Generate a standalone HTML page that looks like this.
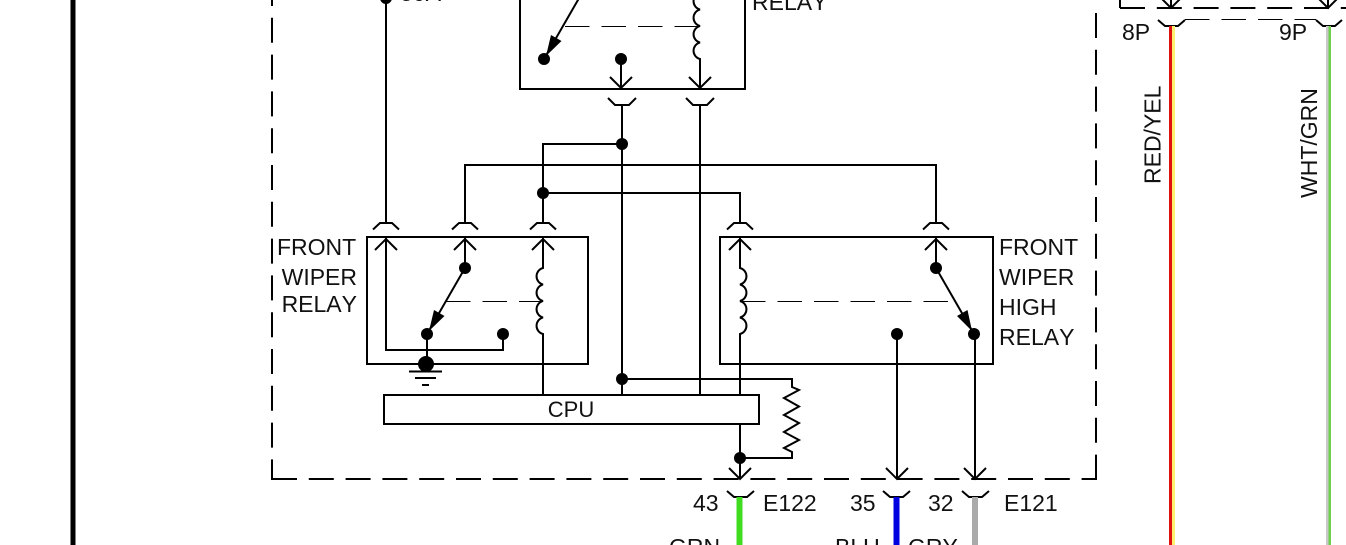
<!DOCTYPE html>
<html>
<head>
<meta charset="utf-8">
<style>
html,body{margin:0;padding:0;background:#fff;width:1346px;height:545px;overflow:hidden}
svg{display:block}
text{font-family:"Liberation Sans",sans-serif;font-size:23px;fill:#111;font-kerning:none}
.l{fill:none;stroke:#000;stroke-width:2}
.d{fill:none;stroke:#000;stroke-width:2;stroke-dasharray:25 11.8}
.t{fill:none;stroke:#000;stroke-width:1;stroke-dasharray:24.5 12}
.c{fill:#000;stroke:none}
</style>
</head>
<body>
<svg width="1346" height="545" viewBox="0 0 1346 545" xmlns="http://www.w3.org/2000/svg">
<rect x="70.500" y="0" width="5" height="545" fill="#000"/>

<!-- outer dashed frame -->
<line class="d" x1="272" y1="-19" x2="272" y2="480"/>
<line class="d" x1="1096" y1="13" x2="1096" y2="480"/>
<line class="d" x1="272" y1="479" x2="1097" y2="479"/>
<path class="l" d="M1120 0V8"/>
<line class="d" x1="1120" y1="8" x2="1346" y2="8"/>
<line class="t" x1="1185" y1="19.500" x2="1316" y2="19.500"/>

<!-- top relay -->
<path class="l" d="M520 0V89H745V0"/>
<path class="l" d="M582 -7L544 59"/>
<polygon class="c" points="546,56 561.500,41 551,35"/>
<circle class="c" cx="544" cy="59" r="6"/>
<circle class="c" cx="621" cy="59" r="6"/>
<path class="l" d="M621 59V88M610 77L621 88L632 77"/>
<line class="t" x1="565" y1="26.500" x2="698" y2="26.500"/>
<path class="l" d="M700 -7a8.500 8.500 0 0 0 0 16.500a8.500 8.500 0 0 0 0 16.500a8.500 8.500 0 0 0 0 16.500a8.500 8.500 0 0 0 0 16.500V88M689 77L700 88L711 77"/>
<text x="752" y="10">RELAY</text>

<!-- upper connectors -->
<path class="l" d="M608 98L615 105H629L636 98"/>
<path class="l" d="M686 98L693 105H707L714 98"/>

<!-- vertical wires -->
<path class="l" d="M622 105V395"/>
<path class="l" d="M700 105V395"/>
<path class="l" d="M622 144H543V223"/>
<circle class="c" cx="622" cy="144" r="6"/>
<path class="l" d="M543 193H740V223"/>
<circle class="c" cx="543" cy="193" r="6"/>
<path class="l" d="M465 223V165H936V223"/>
<path class="l" d="M386 0V223"/>
<circle class="c" cx="386" cy="-2" r="6"/>
<text x="400" y="1">30A</text>

<!-- connector caps above relays -->
<path class="l" d="M373 229.500L380 223H392L399 229.500"/>
<path class="l" d="M452 229.500L459 223H471L478 229.500"/>
<path class="l" d="M530 229.500L537 223H549L556 229.500"/>
<path class="l" d="M727 229.500L734 223H746L753 229.500"/>
<path class="l" d="M923 229.500L930 223H942L949 229.500"/>

<!-- front wiper relay -->
<rect class="l" x="367" y="237" width="221" height="127"/>
<path class="l" d="M386 238V350H503V334"/>
<path class="l" d="M375 250L386 239L397 250"/>
<path class="l" d="M465 238V268M454 250L465 239L476 250"/>
<path class="l" d="M465 268L427 334V364"/>
<polygon class="c" points="429,331 444.500,316 434,310"/>
<circle class="c" cx="465" cy="268" r="6"/>
<circle class="c" cx="427" cy="334" r="6"/>
<circle class="c" cx="503" cy="334" r="6"/>
<circle class="c" cx="426" cy="364" r="8"/>
<path class="l" d="M409 371.500H442M415 378H436M422 385H429"/>
<line class="t" x1="446" y1="301.500" x2="543" y2="301.500"/>
<path class="l" d="M543 238V268a8.500 8.500 0 0 0 0 16.500a8.500 8.500 0 0 0 0 16.500a8.500 8.500 0 0 0 0 16.500a8.500 8.500 0 0 0 0 16.500V395M532 250L543 239L554 250"/>
<text x="277" y="255">FRONT</text>
<text x="357" y="285" text-anchor="end">WIPER</text>
<text x="357" y="312" text-anchor="end">RELAY</text>

<!-- front wiper high relay -->
<rect class="l" x="720" y="237" width="273" height="127"/>
<path class="l" d="M740 395V334a8.500 8.500 0 0 0 0 -16.500a8.500 8.500 0 0 0 0 -16.500a8.500 8.500 0 0 0 0 -16.500a8.500 8.500 0 0 0 0 -16.500V238M729 250L740 239L751 250"/>
<line class="t" x1="741" y1="301.500" x2="950" y2="301.500"/>
<path class="l" d="M936 238V268M925 250L936 239L947 250"/>
<path class="l" d="M936 268L974 334"/>
<polygon class="c" points="972,331 967.500,310 957,316"/>
<circle class="c" cx="936" cy="268" r="6"/>
<circle class="c" cx="974" cy="334" r="6"/>
<circle class="c" cx="897" cy="334" r="6"/>
<path class="l" d="M897 334V479M886 468L897 479L908 468"/>
<path class="l" d="M975 334V479M964 468L975 479L986 468"/>
<text x="999" y="255">FRONT</text>
<text x="999" y="285">WIPER</text>
<text x="999" y="315">HIGH</text>
<text x="999" y="345">RELAY</text>

<!-- CPU -->
<rect class="l" x="384" y="395" width="375" height="29"/>
<text x="571" y="417" text-anchor="middle" style="font-size:22px">CPU</text>
<circle class="c" cx="622" cy="379" r="6"/>
<path class="l" d="M622 379H792V387L799 390L784 398L799 406.500L784 415L799 423L784 432L799 440L784 448L792 452V458H740"/>
<path class="l" d="M740 424V479M729 468L740 479L751 468"/>
<circle class="c" cx="740" cy="458" r="6"/>

<!-- bottom connectors -->
<path class="l" d="M727 491L734 497H747L754 491"/>
<path class="l" d="M883 491L890 497H903L910 491"/>
<path class="l" d="M962 491L969 497H982L989 491"/>
<rect x="736.500" y="497" width="6" height="48" fill="#3fdc1f"/>
<rect x="893.500" y="497" width="6" height="48" fill="#0000e0"/>
<rect x="972" y="497" width="6" height="48" fill="#aaaaaa"/>
<text x="693" y="511">43</text>
<text x="763" y="511">E122</text>
<text x="850" y="511">35</text>
<text x="928" y="511">32</text>
<text x="1004" y="511">E121</text>
<text x="669" y="555">GRN</text>
<text x="835" y="555">BLU</text>
<text x="908" y="555">GRY</text>

<!-- right wires -->
<path class="l" d="M1171 -3V8M1160 -3L1171 8L1182 -3"/>
<path class="l" d="M1328 -3V8M1317 -3L1328 8L1339 -3"/>
<path class="l" d="M1158 20L1165 26H1178L1185 20"/>
<path class="l" d="M1316 20L1323 26H1335L1342 20"/>
<rect x="1169" y="26" width="3" height="519" fill="#e01010"/>
<rect x="1172" y="26" width="3" height="519" fill="#fdf070"/>
<rect x="1326" y="26" width="2.500" height="519" fill="#c8c8c8"/>
<rect x="1328.500" y="26" width="2.500" height="519" fill="#6fcf4f"/>
<text x="1122" y="40">8P</text>
<text x="1279" y="40">9P</text>
<text transform="translate(1160.500,184) rotate(-90)">RED/YEL</text>
<text transform="translate(1317,198) rotate(-90)">WHT/GRN</text>
</svg>
</body>
</html>
